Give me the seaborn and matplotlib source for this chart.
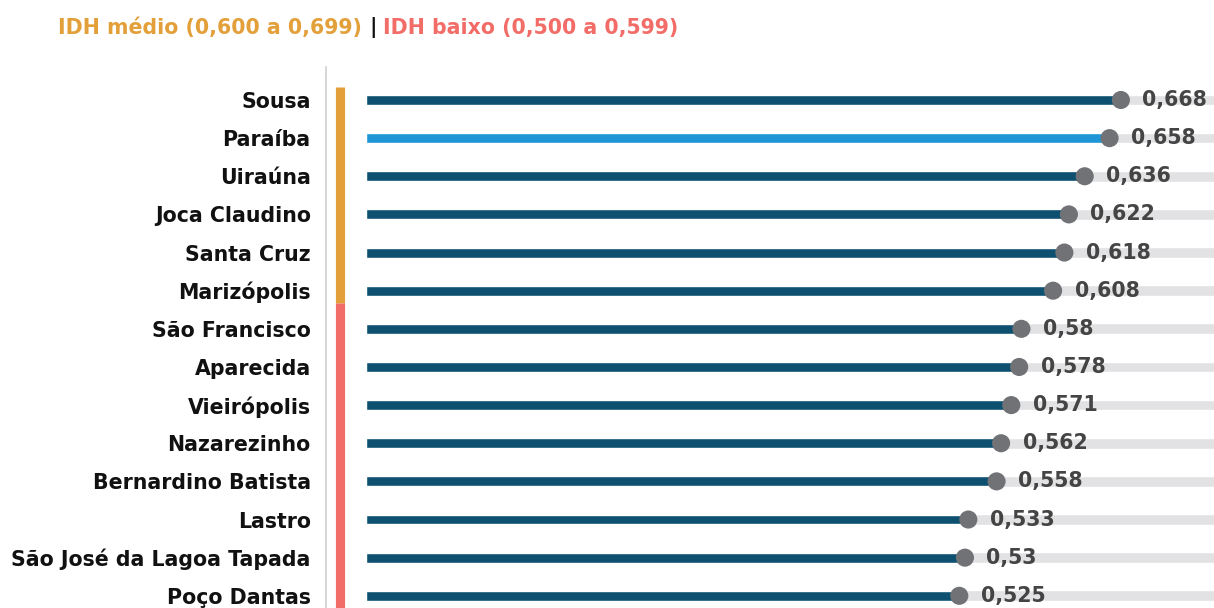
import matplotlib
matplotlib.use("Agg")
import matplotlib.pyplot as plt
import seaborn as sns
import pandas as pd

# IDH data
municipios = ['Sousa', 'Paraíba', 'Uiraúna', 'Joca Claudino', 'Santa Cruz', 'Marizópolis',
              'São Francisco', 'Aparecida', 'Vieirópolis', 'Nazarezinho', 'Bernardino Batista',
              'Lastro', 'São José da Lagoa Tapada', 'Poço Dantas']
idh = [0.668, 0.658, 0.636, 0.622, 0.618, 0.608, 0.58, 0.578, 0.571, 0.562, 0.558,
       0.533, 0.53, 0.525]
idh_max = 1.0

df = pd.DataFrame({'Municipio': municipios, 'IDH': idh})
df['Max'] = idh_max
df['Label'] = df['IDH'].map(lambda v: ('%g' % v).replace('.', ','))

dark = '#0E5070'
highlight = '#1E96D6'
orange = '#E3A03A'
red = '#F26D68'
palette = {m: (highlight if m == 'Paraíba' else dark) for m in municipios}

sns.set_style('white')
plt.rcParams['font.family'] = ['DejaVu Sans']

fig = plt.figure(figsize=(12.14, 6.08), dpi=100)
ax = fig.add_axes([326 / 1214, 0, 1 - 326 / 1214, (608 - 67) / 608])

# grey track behind each bar
sns.barplot(data=df, y='Municipio', x='Max', color='#E2E2E4', width=0.28,
            saturation=1, orient='h', ax=ax, zorder=1)
# value bars
sns.barplot(data=df, y='Municipio', x='IDH', hue='Municipio', palette=palette,
            width=0.26, saturation=1, orient='h', legend=False, ax=ax, zorder=2)
# dots at the end of each bar
sns.scatterplot(data=df, y='Municipio', x='IDH', color='#717275', s=170,
                edgecolor='none', ax=ax, zorder=3)

for i, row in df.iterrows():
    ax.text(row['IDH'] + 0.019, i, row['Label'], va='center', ha='left',
            fontsize=14.8, fontweight='bold', color='#444444', zorder=4)

# category strip on the left
n_medio = sum(v >= 0.6 for v in idh)
ax.plot([-0.0226, -0.0226], [-0.34, n_medio - 0.68], color=orange, lw=6.6,
        solid_capstyle='butt', zorder=2, clip_on=False)
ax.plot([-0.0226, -0.0226], [n_medio - 0.68, 14], color=red, lw=6.6,
        solid_capstyle='butt', zorder=2)

ax.set_xlim(-0.0354, 0.7504)
ax.set_ylim(13.32, -0.865)
ax.set_xlabel('')
ax.set_ylabel('')
ax.set_xticks([])
ax.tick_params(axis='y', length=0, pad=11)
for lbl in ax.get_yticklabels():
    lbl.set_fontsize(14.8)
    lbl.set_fontweight('bold')
    lbl.set_color('#111111')
for s in ['top', 'right', 'bottom']:
    ax.spines[s].set_visible(False)
ax.spines['left'].set_color('#D0D0D0')
ax.spines['left'].set_linewidth(1.2)

# header
t1 = fig.text(58 / 1214, 1 - 28 / 608, 'IDH médio (0,600 a 0,699)', color=orange,
              fontsize=14.8, fontweight='bold', va='center', ha='left')
fig.canvas.draw()
bb = t1.get_window_extent()
t2 = fig.text((bb.x1 + 7) / 1214, 1 - 28 / 608, '|', color='#111111',
              fontsize=14.8, fontweight='bold', va='center', ha='left')
fig.canvas.draw()
bb2 = t2.get_window_extent()
fig.text((bb2.x1 + 7) / 1214, 1 - 28 / 608, 'IDH baixo (0,500 a 0,599)', color=red,
         fontsize=14.8, fontweight='bold', va='center', ha='left')

fig.savefig('out.png', dpi=100)
